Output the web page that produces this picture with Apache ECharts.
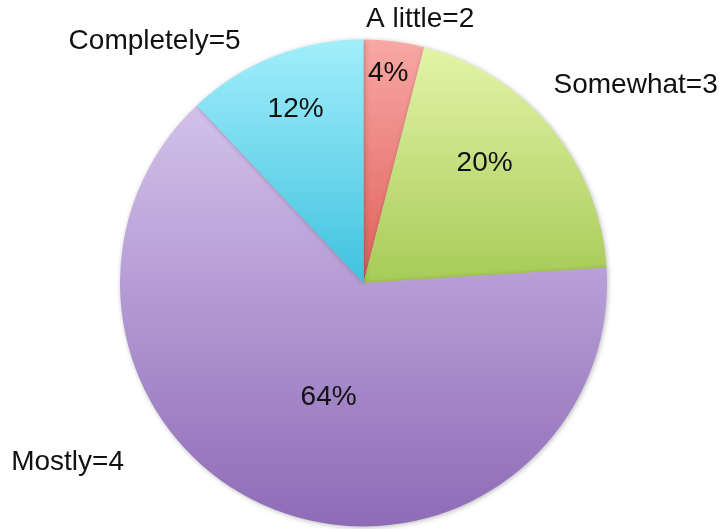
<!DOCTYPE html>
<html>
<head>
<meta charset="utf-8">
<script src="https://cdn.jsdelivr.net/npm/echarts@6/dist/echarts.min.js"></script>
<style>
  html, body { margin: 0; padding: 0; background: #ffffff; }
  #chart { width: 722px; height: 529px; }
</style>
</head>
<body>
<div id="chart"></div>
<script>
// Survey answers and their share of responses (percent)
var categories = ['A little=2', 'Somewhat=3', 'Mostly=4', 'Completely=5'];
var shares = [4, 20, 64, 12];

// Slice gradients: light at the top of each slice, deeper at the bottom
var gradientTop = ['#f8a8a5', '#e3f4a8', '#d3c1eb', '#a2eefb'];
var gradientBottom = ['#df5f58', '#a7cb57', '#8e6bb7', '#3fc2df'];

// Label nudges relative to each slice's default inner anchor
var percentOffsets = [[9, -86], [25, -40], [11, -2], [-22, -58]];
var nameOffsets = [[41, -140], [176, -118], [-250, 63], [-163, -126]];

var font = "'Liberation Sans', Arial, Helvetica, sans-serif";
var fontSize = 28;

function gradient(i) {
  return new echarts.graphic.LinearGradient(0, 0, 0, 1, [
    { offset: 0, color: gradientTop[i] },
    { offset: 1, color: gradientBottom[i] }
  ]);
}

var sliceData = categories.map(function (name, i) {
  return {
    name: name,
    value: shares[i],
    itemStyle: { color: gradient(i) },
    label: { offset: percentOffsets[i] }
  };
});

var nameData = categories.map(function (name, i) {
  return {
    name: name,
    value: shares[i],
    label: { offset: nameOffsets[i] }
  };
});

var pieBase = {
  type: 'pie',
  center: [363.5, 283],
  radius: [0, 243.5],
  startAngle: 90,
  clockwise: true,
  silent: true,
  animation: false
};

var chart = echarts.init(document.getElementById('chart'), null, { renderer: 'canvas' });
chart.setOption({
  backgroundColor: '#ffffff',
  series: [
    Object.assign({}, pieBase, {
      name: 'share',
      itemStyle: {
        borderWidth: 0,
        shadowBlur: 5,
        shadowOffsetX: 1,
        shadowOffsetY: 1,
        shadowColor: 'rgba(0,0,0,0.28)'
      },
      label: {
        show: true,
        position: 'inside',
        formatter: '{c}%',
        color: '#111111',
        fontFamily: font,
        fontSize: fontSize
      },
      labelLine: { show: false },
      data: sliceData
    }),
    Object.assign({}, pieBase, {
      name: 'answer',
      itemStyle: { color: 'rgba(0,0,0,0)' },
      label: {
        show: true,
        position: 'inside',
        formatter: '{b}',
        color: '#111111',
        fontFamily: font,
        fontSize: fontSize
      },
      labelLine: { show: false },
      data: nameData
    })
  ]
});
</script>
</body>
</html>
